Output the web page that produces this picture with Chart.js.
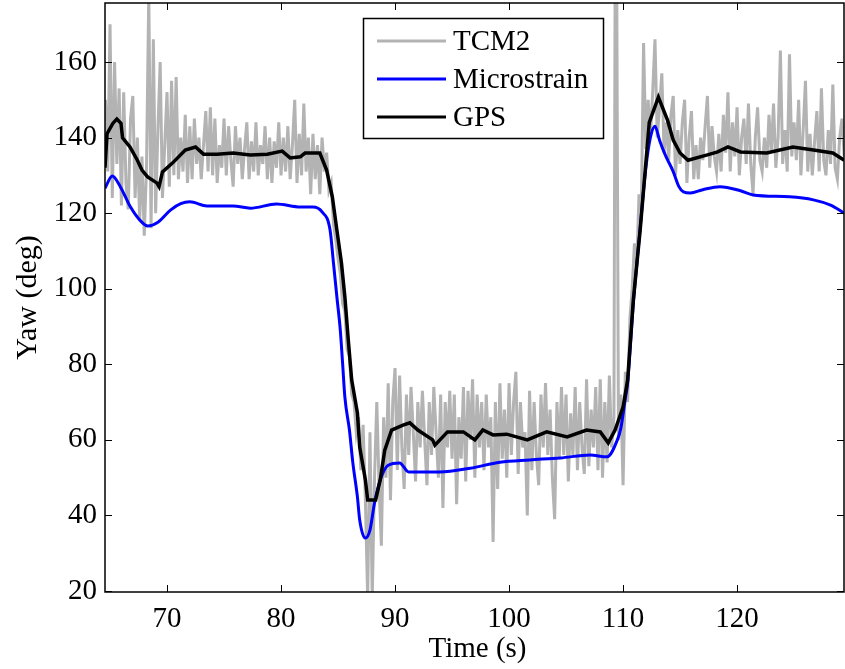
<!DOCTYPE html>
<html>
<head>
<meta charset="utf-8">
<script src="https://cdn.jsdelivr.net/npm/chart.js@4.4.1/dist/chart.umd.min.js"></script>
<style>
html,body{margin:0;padding:0;background:#fff;}
#wrap{width:845px;height:669px;}
</style>
</head>
<body>
<div id="wrap"><canvas id="c" width="845" height="669"></canvas></div>
<script>
// ---- data ----
const xTicks = [70, 80, 90, 100, 110, 120];
const yTicks = [20, 40, 60, 80, 100, 120, 140, 160];
const seriesNames = ['TCM2', 'Microstrain', 'GPS'];
const xTitle = 'Time (s)';
const yTitle = 'Yaw (deg)';

// TCM2 compass: [time s, yaw deg]
const tcm2 = [
 [64.6,150],[64.8,131],[65.0,170],[65.2,124],[65.4,160],[65.6,133],[65.8,153],[66.0,122],[66.2,152],[66.4,128],
 [66.6,121],[66.8,145],[67.0,151],[67.2,124],[67.4,140],[67.6,118],[67.8,135],[68.0,114],[68.2,132],[68.4,178],
 [68.6,116],[68.8,166],[69.0,120],[69.2,142],[69.4,160],[69.6,124],[69.8,138],[70.0,152],[70.2,127],[70.4,155],
 [70.6,130],[70.8,156],[71.0,129],[71.2,140],[71.4,131],[71.6,146],[71.8,128],
 [72.0,143],[72.2,129],[72.4,145],[72.6,133],[72.8,140],[73.0,129],[73.2,138],[73.4,147],[73.6,131],[73.8,148],
 [74.0,130],[74.2,145],[74.4,128],[74.6,138],[74.8,132],[75.0,145],[75.2,130],[75.4,143],[75.6,134],[75.8,127],
 [76.0,143],[76.2,133],[76.4,140],[76.6,129],[76.8,137],[77.0,144],[77.2,129],[77.4,139],[77.6,131],[77.8,144],
 [78.0,130],[78.2,138],[78.4,133],[78.6,143],[78.8,129],[79.0,140],[79.2,128],[79.4,139],[79.6,132],[79.8,144],
 [80.0,130],[80.2,140],[80.4,131],[80.6,143],[80.8,129],[81.0,138],[81.2,150],[81.4,128],[81.6,141],[81.8,130],
 [82.0,149],[82.2,131],[82.4,140],[82.6,125],[82.8,141],[83.0,129],[83.2,138],[83.4,125],[83.6,140],[83.8,131],
 [84.0,136],[84.2,126],[84.4,128],[84.6,117],[84.8,113],[85.0,108],[85.2,104],[85.4,96],[85.6,94],[85.8,84],
 [86.0,82],[86.2,72],[86.4,70],[86.6,62],[86.8,66],[87.0,52],[87.2,64],[87.4,44],[87.6,18],[87.8,62],
 [88.0,18],[88.2,50],[88.4,70],[88.6,48],[88.8,32],
 [89.0,66],[89.2,50],[89.4,75],[89.6,44],[89.8,70],[90.0,79],[90.2,52],[90.4,77],[90.6,58],[90.8,47],
 [91.0,72],[91.2,56],[91.4,74],[91.6,62],[91.8,49],[92.0,70],[92.2,58],[92.4,73],[92.6,60],[92.8,48],
 [93.0,70],[93.2,56],[93.4,74],[93.6,62],[93.8,50],[94.0,72],[94.2,42],[94.4,70],[94.6,58],[94.8,73],
 [95.0,55],[95.2,72],[95.4,43],[95.6,66],[95.8,55],[96.0,74],[96.2,49],[96.4,73],[96.6,60],[96.8,76],
 [97.0,50],[97.2,72],[97.4,58],[97.6,70],[97.8,52],[98.0,72],[98.2,58],[98.4,66],[98.6,33],[98.8,70],
 [99.0,47],[99.2,75],[99.4,55],[99.6,68],[99.8,50],[100.0,75],[100.2,56],[100.4,70],[100.6,78],[100.8,51],
 [101.0,70],[101.2,58],[101.4,62],[101.6,40],[101.8,73],[102.0,52],[102.2,70],[102.4,56],[102.6,48],[102.8,72],
 [103.0,58],[103.2,75],[103.4,56],[103.6,68],[103.8,50],[104.0,39],[104.2,70],[104.4,55],[104.6,74],[104.8,56],
 [105.0,72],[105.2,49],[105.4,67],[105.6,56],[105.8,74],[106.0,52],[106.2,70],[106.4,58],[106.6,51],[106.8,76],
 [107.0,53],[107.2,68],[107.4,58],[107.6,74],[107.8,52],[108.0,76],[108.2,50],[108.4,70],[108.6,54],[108.8,77],
 [109.0,58],[109.2,66],[109.3,178],[109.45,178],[109.6,60],[109.8,72],[110.0,48],[110.2,78],[110.4,70],[110.6,92],
 [110.8,100],[111.0,112],[111.2,106],[111.4,125],[111.6,120],[111.8,165],[112.0,137],
 [112.2,150],[112.4,140],[112.6,152],[112.8,166],[113.0,140],[113.2,148],[113.4,157],[113.6,136],[113.8,144],[114.0,134],
 [114.2,146],[114.4,151],[114.6,130],[114.8,142],[115.0,133],[115.2,144],[115.4,150],[115.6,128],[115.8,140],[116.0,147],
 [116.2,129],[116.4,138],[116.6,129],[116.8,140],[117.0,134],[117.2,143],[117.4,151],[117.6,132],[117.8,143],[118.0,135],
 [118.2,131],[118.4,141],[118.6,131],[118.8,146],[119.0,136],[119.2,152],[119.4,131],[119.6,144],[119.8,135],[120.0,148],
 [120.2,130],[120.4,140],[120.6,145],[120.8,133],[121.0,149],[121.2,133],[121.4,125],[121.6,140],[121.8,148],[122.0,134],
 [122.2,131],[122.4,140],[122.6,132],[122.8,146],[123.0,136],[123.2,149],[123.4,132],[123.6,140],[123.8,163],[124.0,133],
 [124.2,142],[124.4,131],[124.6,162],[124.8,135],[125.0,144],[125.2,134],[125.4,150],[125.6,130],[125.8,142],[126.0,155],
 [126.2,131],[126.4,141],[126.6,130],[126.8,139],[127.0,147],[127.2,131],[127.4,153],[127.6,134],[127.8,130],[128.0,142],
 [128.2,133],[128.4,154],[128.6,132],[128.8,129],[129.0,140],[129.2,145],[129.4,135]
];

// Microstrain IMU: [time s, yaw deg]
const microstrain = [
 [64.56,126.6],[65.2,129.8],[65.9,127],[66.8,121.6],[67.6,118.2],[68.3,116.6],[69.2,117.6],[70.3,120.8],[71.2,122.5],[72.0,123],
 [73.5,121.9],[75.8,121.9],[77.3,121.3],[79.6,122.4],[81.7,121.6],[82.8,121.6],[83.6,120.3],[84.3,115.5],[84.6,106.8],[84.9,97.8],
 [85.2,89],[85.4,80.3],[85.6,71.3],[86.0,62.6],[86.3,53.9],[86.7,44.9],[86.9,38.8],[87.4,34.0],[87.8,36.1],[88.2,43.3],
 [88.7,49.4],[89.4,53.3],[90.4,53.9],[91.2,51.5],[93.9,51.5],[96.6,52.5],[99.2,54.1],[101.8,54.7],[104.5,55.2],[107.1,56],
 [108.6,55.5],[109.5,60],[109.8,63],[110.2,71],[110.4,75],[110.9,96],[111.5,116],[112.0,132],[112.4,140],[112.8,143],
 [113.2,139.3],[113.7,135.4],[114.4,131],[114.9,127],[115.3,125.6],[115.9,125.3],[117.0,126.2],[118.5,127],[120.3,125.9],[121.4,124.8],
 [124.6,124.3],[126.7,123.5],[128.2,122.1],[129.4,120]
];

// GPS heading: [time s, yaw deg]
const gps = [
 [64.56,132],[64.74,141],[65.26,143.8],[65.6,144.9],[65.96,143.8],[66.1,139.9],[66.75,137.5],[67.4,134],[67.8,131.4],[68.3,129.6],
 [69.1,128],[69.3,127],[69.6,130.9],[70.5,133.3],[71.6,136.7],[72.5,137.5],[73.2,135.6],[74.4,135.6],[75.8,135.9],[77.3,135.4],
 [78.8,135.6],[80.1,136.4],[80.8,134.6],[81.7,134.9],[82.1,135.9],[83.4,135.9],[84.0,131.4],[84.5,124.3],[84.9,115.5],[85.3,106.8],
 [85.6,97.8],[85.9,86.4],[86.2,75.8],[86.7,67.1],[86.9,58.1],[87.4,49.4],[87.6,44.1],[88.3,44.1],[88.7,49.4],[89.1,57.3],
 [89.7,62.6],[90.7,63.9],[91.3,64.5],[92.0,62.6],[93.3,60],[93.5,58.6],[94.6,62.1],[96.0,62.1],[97.0,60],[97.7,62.6],
 [98.6,61.3],[99.8,61.5],[101.6,60],[103.3,62.1],[105.1,60.8],[106.8,62.6],[108.0,62.1],[108.7,59.2],[109.3,62.6],[110.0,68.7],
 [110.4,75.8],[110.9,97],[111.5,115.5],[112.3,144],[113.1,150.7],[113.9,144.6],[114.4,139.3],[115.0,135.9],[115.7,134],[117.4,135.4],
 [118.3,136.2],[119.2,137.5],[120.3,136.2],[122.6,135.9],[124.9,137.5],[126.7,136.7],[128.4,135.9],[129.4,134]
];

const seriesColors = ['rgb(179,179,179)', 'rgb(0,0,255)', 'rgb(0,0,0)'];

const FONT = 'Liberation Serif, serif';
Chart.defaults.font.family = FONT;
const toXY = arr => arr.map(p => ({x: p[0], y: p[1]}));

const framePlugin = {
  id: 'frame',
  afterDatasetsDraw(chart) {
    const {ctx, chartArea: a, scales} = chart;
    ctx.save();
    // legend box
    const lx = 363, ly = 18, lw = 240, lh = 120;
    ctx.fillStyle = '#fff';
    ctx.fillRect(lx, ly, lw, lh);
    ctx.strokeStyle = '#000';
    ctx.lineWidth = 1.5;
    ctx.strokeRect(lx + 0.5, ly + 0.5, lw, lh);
    const rows = [41, 79, 117];
    chart.data.datasets.forEach((ds, i) => {
      ctx.strokeStyle = ds.borderColor;
      ctx.lineWidth = 3;
      ctx.beginPath();
      ctx.moveTo(377, rows[i]);
      ctx.lineTo(446, rows[i]);
      ctx.stroke();
      ctx.fillStyle = '#000';
      ctx.font = '29px ' + FONT;
      ctx.textAlign = 'left';
      ctx.textBaseline = 'middle';
      ctx.fillText(ds.label, 453, rows[i] + 1);
    });
    // axes frame
    ctx.strokeStyle = '#000';
    ctx.lineWidth = 1.5;
    ctx.strokeRect(a.left, a.top, a.right - a.left, a.bottom - a.top);
    // inward ticks on all four sides
    ctx.lineWidth = 1;
    const tl = 7;
    ctx.beginPath();
    xTicks.forEach(v => {
      const x = Math.round(scales.x.getPixelForValue(v)) + 0.5;
      ctx.moveTo(x, a.bottom); ctx.lineTo(x, a.bottom - tl);
      ctx.moveTo(x, a.top); ctx.lineTo(x, a.top + tl);
    });
    yTicks.forEach(v => {
      const y = Math.round(scales.y.getPixelForValue(v)) + 0.5;
      ctx.moveTo(a.left, y); ctx.lineTo(a.left + tl, y);
      ctx.moveTo(a.right, y); ctx.lineTo(a.right - tl, y);
    });
    ctx.stroke();
    // axis titles
    ctx.fillStyle = '#000';
    ctx.textAlign = 'center';
    ctx.textBaseline = 'middle';
    ctx.font = '29px ' + FONT;
    ctx.fillText(xTitle, (a.left + a.right) / 2 + 3, 649);
    ctx.font = '30px ' + FONT;
    ctx.translate(28, (a.top + a.bottom) / 2);
    ctx.rotate(-Math.PI / 2);
    ctx.fillText(yTitle, 0, 0);
    ctx.restore();
  }
};

new Chart(document.getElementById('c'), {
  type: 'line',
  data: {
    datasets: [
      {label: seriesNames[0], data: toXY(tcm2), borderColor: seriesColors[0], borderWidth: 3, pointRadius: 0, tension: 0, clip: 0, order: 3},
      {label: seriesNames[1], data: toXY(microstrain), borderColor: seriesColors[1], borderWidth: 3, pointRadius: 0, cubicInterpolationMode: 'monotone', clip: 0, order: 2},
      {label: seriesNames[2], data: toXY(gps), borderColor: seriesColors[2], borderWidth: 3.5, pointRadius: 0, tension: 0, clip: 0, order: 1}
    ]
  },
  options: {
    responsive: false,
    animation: false,
    devicePixelRatio: 1,
    layout: {padding: {top: 3, right: 1, left: 0, bottom: 0}},
    plugins: {legend: {display: false}, tooltip: {enabled: false}},
    scales: {
      x: {
        type: 'linear', min: 64.56, max: 129.38,
        grid: {display: false, drawTicks: false},
        border: {display: false},
        afterBuildTicks: s => { s.ticks = xTicks.map(v => ({value: v})); },
        afterFit: s => { s.height = 77; s.paddingLeft = 0; s.paddingRight = 0; },
        ticks: {font: {family: FONT, size: 29}, color: '#000', padding: 10, maxRotation: 0, autoSkip: false}
      },
      y: {
        type: 'linear', min: 19.74, max: 175.6,
        grid: {display: false, drawTicks: false},
        border: {display: false},
        afterBuildTicks: s => { s.ticks = yTicks.map(v => ({value: v})); },
        afterFit: s => { s.width = 105; s.paddingTop = 0; s.paddingBottom = 0; },
        ticks: {font: {family: FONT, size: 29}, color: '#000', padding: 8, autoSkip: false}
      }
    }
  },
  plugins: [framePlugin]
});
</script>
</body>
</html>
